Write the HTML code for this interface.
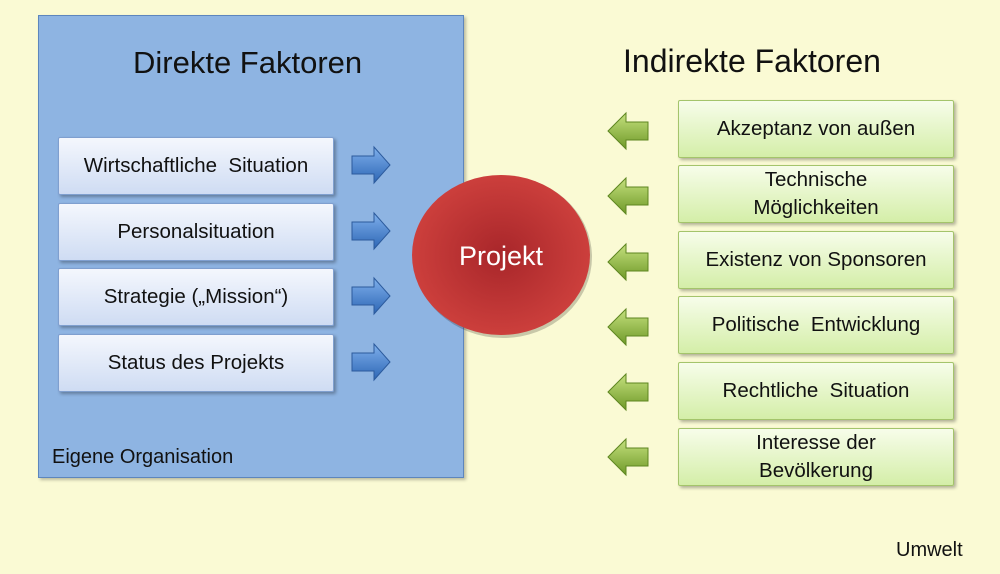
<!DOCTYPE html>
<html><head><meta charset="utf-8"><style>
body{margin:0;width:1000px;height:574px;background:#fafad4;position:relative;overflow:hidden;font-family:"Liberation Sans","DejaVu Sans",sans-serif;}
.panel{position:absolute;left:38px;top:15px;width:424px;height:461px;background:#8eb4e2;border:1px solid #5d86bd;box-shadow:2px 2px 3px rgba(0,0,0,.25);}
.b{position:absolute;width:274px;height:56px;display:flex;align-items:center;justify-content:center;text-align:center;font-size:20.5px;color:#111;line-height:28px;border-radius:2px;white-space:nowrap;}
.bl{left:58px;background:linear-gradient(#f4f7fd,#cfdcf3);border:1px solid #7f9fcf;box-shadow:2px 2px 3px rgba(0,0,0,.3);}
.gr{left:678px;background:linear-gradient(#f7fdea,#d4eea8);border:1px solid #a4c46b;box-shadow:2px 2px 3px rgba(0,0,0,.3);}
.t{position:absolute;font-size:31px;color:#111;}
</style></head><body>
<div class="panel"></div>
<div class="t" style="left:133px;top:45px">Direkte Faktoren</div>
<div class="t" style="left:623px;top:43px;font-size:32px">Indirekte Faktoren</div>
<div style="position:absolute;left:52px;top:446px;font-size:20px;color:#111">Eigene Organisation</div>
<div style="position:absolute;left:896px;top:539px;font-size:20px;color:#111">Umwelt</div>
<div class="b bl" style="top:137px">Wirtschaftliche&nbsp; Situation</div>
<div class="b bl" style="top:203px">Personalsituation</div>
<div class="b bl" style="top:268px">Strategie („Mission“)</div>
<div class="b bl" style="top:334px">Status des Projekts</div>
<div class="b gr" style="top:100px">Akzeptanz von außen</div>
<div class="b gr" style="top:165px">Technische<br>Möglichkeiten</div>
<div class="b gr" style="top:231px">Existenz von Sponsoren</div>
<div class="b gr" style="top:296px">Politische&nbsp; Entwicklung</div>
<div class="b gr" style="top:362px">Rechtliche&nbsp; Situation</div>
<div class="b gr" style="top:428px">Interesse der<br>Bevölkerung</div>
<svg width="1000" height="574" style="position:absolute;left:0;top:0">
<defs>
<radialGradient id="r" cx="50%" cy="50%" r="50%"><stop offset="0" stop-color="#a8262a"/><stop offset="1" stop-color="#cc3f3c"/></radialGradient>
<linearGradient id="bb" x1="0" y1="0" x2="0" y2="1"><stop offset="0" stop-color="#7fb0ec"/><stop offset="1" stop-color="#2d66b5"/></linearGradient>
<linearGradient id="gg" x1="0" y1="0" x2="0" y2="1"><stop offset="0" stop-color="#c5e07e"/><stop offset="1" stop-color="#6f9a28"/></linearGradient>
<g id="ba"><polygon points="0,-9 22,-9 22,-18 38,0 22,18 22,9 0,9" fill="url(#bb)" stroke="#2c5a9c" stroke-width="1"/></g>
<g id="ga"><polygon points="40,-9 18,-9 18,-18 0,0 18,18 18,9 40,9" fill="url(#gg)" stroke="#5d8520" stroke-width="1"/></g>
</defs>
<use href="#ba" x="352" y="165"/><use href="#ba" x="352" y="231"/><use href="#ba" x="352" y="296"/><use href="#ba" x="352" y="362"/>
<use href="#ga" x="608" y="131"/><use href="#ga" x="608" y="196"/><use href="#ga" x="608" y="262"/><use href="#ga" x="608" y="327"/><use href="#ga" x="608" y="392"/><use href="#ga" x="608" y="457"/>
<ellipse cx="503" cy="257" rx="89" ry="81" fill="rgba(0,0,0,.2)"/>
<ellipse cx="501" cy="255" rx="89" ry="80" fill="url(#r)"/>
<text x="501" y="265" text-anchor="middle" font-size="27" fill="#fff" font-family="Liberation Sans, sans-serif">Projekt</text>
</svg>
</body></html>
